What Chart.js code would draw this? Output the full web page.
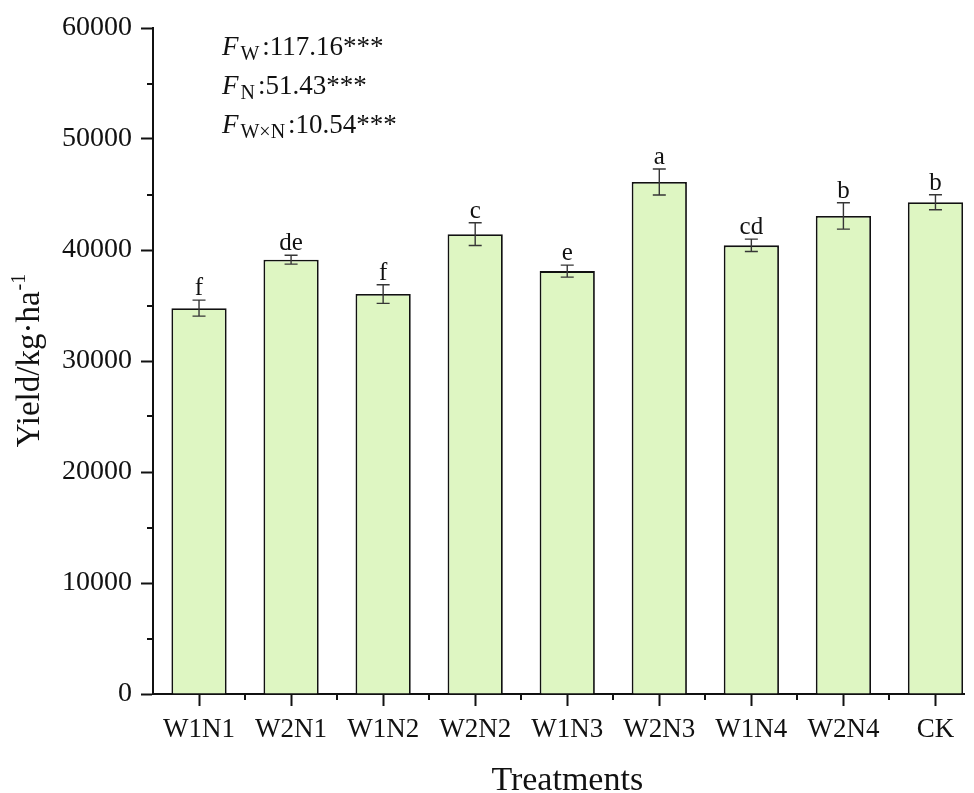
<!DOCTYPE html>
<html>
<head>
<meta charset="utf-8">
<script src="https://cdn.jsdelivr.net/npm/chart.js@4/dist/chart.umd.min.js"></script>
<style>
  html, body { margin: 0; padding: 0; background: #fff; overflow: hidden; }
  #wrap { width: 974px; height: 793px; }
</style>
</head>
<body>
<div id="wrap"><canvas id="c" width="974" height="793"></canvas></div>
<script>
// Yield by treatment (mean ± error) with significance letters
const treatments = ['W1N1', 'W2N1', 'W1N2', 'W2N2', 'W1N3', 'W2N3', 'W1N4', 'W2N4', 'CK'];
const yieldMean  = [34760, 39130, 36030, 41430, 38100, 46130, 40420, 43070, 44300];
const yieldErr   = [720, 400, 840, 1020, 540, 1170, 560, 1190, 680];
const sigLetters = ['f', 'de', 'f', 'c', 'e', 'a', 'cd', 'b', 'b'];
const yTickValues = [0, 10000, 20000, 30000, 40000, 50000, 60000];
const fSubs  = ['W', 'N', 'W\u00D7N'];
const fTexts = [':117.16***', ':51.43***', ':10.54***'];

const SERIF = "'Liberation Serif', 'Times New Roman', serif";
const INK = '#111';

// minor ticks, error bars, letters, F statistics and axis titles
const decorations = {
  id: 'decorations',
  afterDraw(chart) {
    const ctx = chart.ctx;
    const xs = chart.scales.x, ys = chart.scales.y;
    const area = chart.chartArea;
    ctx.save();

    // minor ticks between categories and between y steps
    ctx.strokeStyle = INK;
    ctx.lineWidth = 2;
    for (let i = 0; i < treatments.length - 1; i++) {
      const px = Math.round(xs.getPixelForValue(i + 0.5));
      ctx.beginPath();
      ctx.moveTo(px, area.bottom);
      ctx.lineTo(px, area.bottom + 6);
      ctx.stroke();
    }
    for (let k = 0; k < yTickValues.length - 1; k++) {
      const v = (yTickValues[k] + yTickValues[k + 1]) / 2;
      const py = Math.round(ys.getPixelForValue(v));
      ctx.beginPath();
      ctx.moveTo(area.left, py);
      ctx.lineTo(area.left - 6, py);
      ctx.stroke();
    }

    // error bars and significance letters
    ctx.strokeStyle = '#363636';
    ctx.lineWidth = 1.4;
    ctx.fillStyle = INK;
    ctx.font = '25px ' + SERIF;
    ctx.textAlign = 'center';
    ctx.textBaseline = 'alphabetic';
    treatments.forEach((t, i) => {
      const px = xs.getPixelForValue(i);
      const top = ys.getPixelForValue(yieldMean[i] + yieldErr[i]);
      const bot = ys.getPixelForValue(yieldMean[i] - yieldErr[i]);
      ctx.beginPath();
      ctx.moveTo(px, top); ctx.lineTo(px, bot);
      ctx.moveTo(px - 6.5, top); ctx.lineTo(px + 6.5, top);
      ctx.moveTo(px - 6.5, bot); ctx.lineTo(px + 6.5, bot);
      ctx.stroke();
      ctx.fillText(sigLetters[i], px, top - 5);
    });

    // F statistics block
    ctx.textAlign = 'left';
    fSubs.forEach((sub, i) => {
      let x = area.left + 69;
      const base = area.top + 27 + i * 39;
      ctx.font = 'italic 27px ' + SERIF;
      ctx.fillText('F', x, base);
      x += ctx.measureText('F').width + 2;
      ctx.font = '20px ' + SERIF;
      ctx.fillText(sub, x, base + 5);
      x += ctx.measureText(sub).width + 3;
      ctx.font = '27px ' + SERIF;
      ctx.fillText(fTexts[i], x, base);
    });

    // x axis title, centred on the full category band
    ctx.textAlign = 'center';
    ctx.font = '34px ' + SERIF;
    const cx = (xs.getPixelForValue(-0.5) + xs.getPixelForValue(treatments.length - 0.5)) / 2;
    ctx.fillText('Treatments', cx, chart.height - 3);

    // y axis title with superscript
    const cy = (area.top + area.bottom) / 2;
    ctx.translate(39, cy);
    ctx.rotate(-Math.PI / 2);
    ctx.font = '33px ' + SERIF;
    const main = 'Yield/kg\u00B7ha';
    const wMain = ctx.measureText(main).width;
    ctx.font = '20px ' + SERIF;
    const wSup = ctx.measureText('-1').width;
    const start = -(wMain + wSup) / 2;
    ctx.textAlign = 'left';
    ctx.font = '33px ' + SERIF;
    ctx.fillText(main, start, 0);
    ctx.font = '20px ' + SERIF;
    ctx.fillText('-1', start + wMain + 1, -14);

    ctx.restore();
  }
};

new Chart(document.getElementById('c'), {
  type: 'bar',
  data: {
    datasets: [{
      data: treatments.map((t, i) => ({ x: i, y: yieldMean[i] })),
      backgroundColor: '#def6c2',
      borderColor: INK,
      borderWidth: 1.8,
      barPercentage: 0.6,
      categoryPercentage: 1
    }]
  },
  options: {
    responsive: false,
    devicePixelRatio: 1,
    animation: false,
    layout: { padding: { top: 28, right: 10, bottom: 0, left: 0 } },
    plugins: { legend: { display: false }, tooltip: { enabled: false } },
    scales: {
      x: {
        type: 'linear',
        offset: false,
        min: -0.5,
        max: 8.31, // axis line stops a little past the last bar
        afterBuildTicks: s => { s.ticks = treatments.map((t, i) => ({ value: i })); },
        afterFit: s => { s.height = 99; },
        ticks: {
          callback: v => treatments[v],
          font: { family: SERIF, size: 27 },
          color: INK,
          padding: 8,
          autoSkip: false,
          maxRotation: 0
        },
        grid: { offset: false, drawOnChartArea: false, tickLength: 12, tickWidth: 2, tickColor: INK },
        border: { color: INK, width: 2 }
      },
      y: {
        min: 0,
        max: 60000,
        afterBuildTicks: s => { s.ticks = yTickValues.map(v => ({ value: v })); },
        afterFit: s => { s.width = 153; },
        ticks: {
          callback: v => String(v),
          font: { family: SERIF, size: 28 },
          color: INK,
          padding: 9
        },
        grid: { drawOnChartArea: false, tickLength: 12, tickWidth: 2, tickColor: INK },
        border: { color: INK, width: 2 }
      }
    }
  },
  plugins: [decorations]
});
</script>
</body>
</html>
